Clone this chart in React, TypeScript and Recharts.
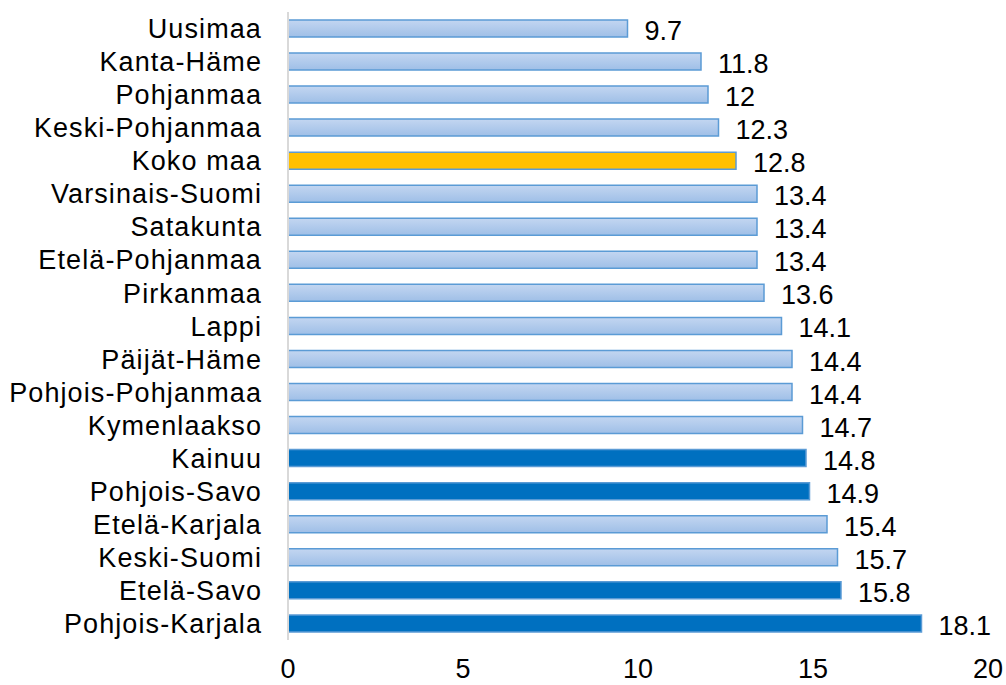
import React from "react";
import { BarChart, Bar, XAxis, YAxis, Cell, LabelList } from "recharts";

const regions = [
  "Uusimaa", "Kanta-Häme", "Pohjanmaa", "Keski-Pohjanmaa", "Koko maa",
  "Varsinais-Suomi", "Satakunta", "Etelä-Pohjanmaa", "Pirkanmaa", "Lappi",
  "Päijät-Häme", "Pohjois-Pohjanmaa", "Kymenlaakso", "Kainuu", "Pohjois-Savo",
  "Etelä-Karjala", "Keski-Suomi", "Etelä-Savo", "Pohjois-Karjala",
];
const values = [9.7, 11.8, 12, 12.3, 12.8, 13.4, 13.4, 13.4, 13.6, 14.1, 14.4, 14.4, 14.7, 14.8, 14.9, 15.4, 15.7, 15.8, 18.1];
// 0 = light, 1 = dark, 2 = whole country
const kinds = [0, 0, 0, 0, 2, 0, 0, 0, 0, 0, 0, 0, 0, 1, 1, 0, 0, 1, 1];
const xTicks = [0, 5, 10, 15, 20];

const data = regions.map((name, i) => ({ name, value: values[i], kind: kinds[i] }));

const fills = ["url(#lightGrad)", "#0070c0", "#ffc000"];
const FONT = "'Liberation Sans', Arial, sans-serif";

export default function App() {
  return (
    <div
      style={{
        position: "absolute",
        left: 0,
        top: 0,
        width: 1006,
        height: 685,
        overflow: "hidden",
        background: "#fff",
      }}
    >
      <BarChart
        width={1006}
        height={685}
        data={data}
        layout="vertical"
        margin={{ top: 12, right: 18, bottom: 0, left: 0 }}
        barCategoryGap="24%"
      >
        <defs>
          <linearGradient id="lightGrad" x1="0" y1="0" x2="0" y2="1">
            <stop offset="0%" stopColor="#c3d6f1" />
            <stop offset="100%" stopColor="#9fbfe7" />
          </linearGradient>
        </defs>
        <XAxis
          type="number"
          domain={[0, 20]}
          ticks={xTicks}
          axisLine={false}
          tickLine={false}
          tickSize={0}
          tickMargin={19}
          height={45}
          interval={0}
          tick={{ fill: "#000", fontSize: 27, fontFamily: FONT }}
        />
        <YAxis
          type="category"
          dataKey="name"
          width={288}
          axisLine={{ stroke: "#d9d9d9", strokeWidth: 2 }}
          tickLine={false}
          tickSize={0}
          tickMargin={26}
          interval={0}
          tick={{ fill: "#000", fontSize: 27, fontFamily: FONT, letterSpacing: 1.1 }}
        />
        <Bar dataKey="value" isAnimationActive={false} stroke="#5b9bd5" strokeWidth={1.5}>
          {data.map((d, i) => (
            <Cell key={i} fill={fills[d.kind]} />
          ))}
          <LabelList
            dataKey="value"
            position="right"
            offset={17}
            fill="#000"
            fontSize={27}
            fontFamily={FONT}
            dy={2}
          />
        </Bar>
      </BarChart>
    </div>
  );
}
